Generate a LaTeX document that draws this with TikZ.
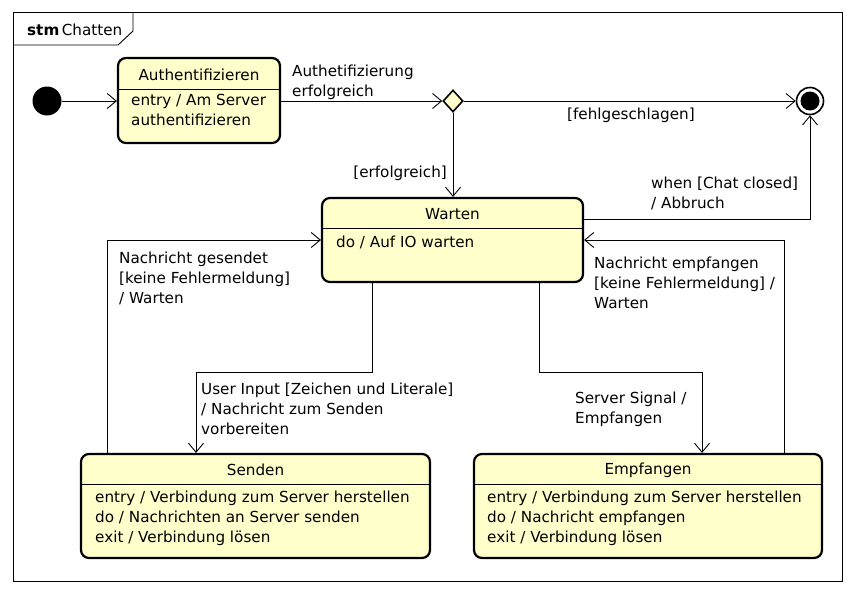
\documentclass[tikz,border=0pt]{standalone}
\usepackage{fontspec}
\setmainfont{DejaVu Sans}
\usetikzlibrary{arrows.meta,shapes.geometric}
\definecolor{stfill}{HTML}{FFFFCC}
\tikzset{
  stbox/.style={draw=black, line width=2.2pt, fill=stfill, rounded corners=8pt, inner sep=0pt},
  sep/.style={draw=black, line width=0.8pt},
  tr/.style={draw=black, line width=0.9pt, -{Straight Barb[length=9pt,width=15pt,line width=0.9pt]}},
  txt/.style={inner sep=0pt, font=\fontsize{15.2}{19.8}\selectfont, align=left},
  ttl/.style={inner sep=0pt, font=\fontsize{15.2}{19.8}\selectfont},
}
\begin{document}
\begin{tikzpicture}[x=1pt,y=-1pt]
\useasboundingbox (0,0) rectangle (856,594);
% frame
\draw[line width=1pt] (13,13) rectangle (842,581);
\draw[line width=0.9pt] (13,45) -- (118,45) -- (133,31) -- (133,13);
\node[ttl, anchor=west] (frametitle) at (27,30) {\textbf{stm}\,Chatten};
% initial
\node[circle, fill=black, minimum size=29pt, inner sep=0pt] (init) at (47,101) {};
% final
\node[circle, draw=black, line width=1.6pt, fill=white, minimum size=27pt, inner sep=0pt] (final) at (810,101) {};
\node[circle, fill=black, minimum size=19pt, inner sep=0pt] (finalin) at (810,101) {};
% decision
\node[diamond, draw=black, line width=1.6pt, fill=stfill, minimum width=20pt, minimum height=22pt, inner sep=0pt] (dec) at (453,101) {};
% Authentifizieren
\node[stbox, minimum width=162pt, minimum height=85pt] (auth) at (199,100.5) {};
\draw[sep] (118,89) -- (280,89);
\node[ttl] (authT) at (199,75) {Authentifizieren};
\node[txt, anchor=north west] (authB) at (131,94) {entry / Am Server\\authentifizieren};
% Warten
\node[stbox, minimum width=261pt, minimum height=84pt] (wart) at (452.5,240) {};
\draw[sep] (322,228) -- (583,228);
\node[ttl] (wartT) at (452.5,214) {Warten};
\node[txt, anchor=north west] (wartB) at (336,235.5) {do / Auf IO warten};
% Senden
\node[stbox, minimum width=349pt, minimum height=104pt] (send) at (255.5,506) {};
\draw[sep] (81,484) -- (430,484);
\node[ttl] (sendT) at (255.5,470) {Senden};
\node[txt, anchor=north west] (sendB) at (95,491) {entry / Verbindung zum Server herstellen\\do / Nachrichten an Server senden\\exit / Verbindung lösen};
% Empfangen
\node[stbox, minimum width=348pt, minimum height=104pt] (empf) at (648,506) {};
\draw[sep] (474,484) -- (822,484);
\node[ttl] (empfT) at (648,470) {Empfangen};
\node[txt, anchor=north west] (empfB) at (487,491) {entry / Verbindung zum Server herstellen\\do / Nachricht empfangen\\exit / Verbindung lösen};
% coordinates
\coordinate (c1) at (810,219);
\coordinate (c2) at (784,240);
\coordinate (c3) at (107,240);
\coordinate (c4) at (372,372);
\coordinate (c5) at (196,372);
\coordinate (c6) at (539,372);
\coordinate (c7) at (702,372);
% transitions
\draw[tr] (init) -- (auth.west |- init);
\draw[tr] (auth.east |- dec) -- (dec.west);
\draw[tr] (dec.east) -- (final.west);
\draw[tr] (dec.south) -- (dec |- wart.north);
\draw[tr] (wart.east |- c1) -- (c1) -- (final.south);
\draw[tr] (empf.north -| c2) -- (c2) -- (wart.east |- c2);
\draw[tr] (send.north -| c3) -- (c3) -- (wart.west |- c3);
\draw[tr] (wart.south -| c4) -- (c4) -- (c5) -- (send.north -| c5);
\draw[tr] (wart.south -| c6) -- (c6) -- (c7) -- (empf.north -| c7);
% labels
\node[txt, anchor=north west] (l1) at (292,65) {Authetifizierung\\erfolgreich};
\node[txt, anchor=north west] (l2) at (567,108) {[fehlgeschlagen]};
\node[txt, anchor=north east] (l3) at (447,166) {[erfolgreich]};
\node[txt, anchor=north west] (l4) at (651,177) {when [Chat closed]\\/ Abbruch};
\node[txt, anchor=north west] (l5) at (594,257) {Nachricht empfangen\\{}[keine Fehlermeldung] /\\Warten};
\node[txt, anchor=north west] (l6) at (119,252) {Nachricht gesendet\\{}[keine Fehlermeldung]\\/ Warten};
\node[txt, anchor=north west] (l7) at (201,383) {User Input [Zeichen und Literale]\\/ Nachricht zum Senden\\vorbereiten};
\node[txt, anchor=north west] (l8) at (575,392) {Server Signal /\\Empfangen};
\end{tikzpicture}
\end{document}
